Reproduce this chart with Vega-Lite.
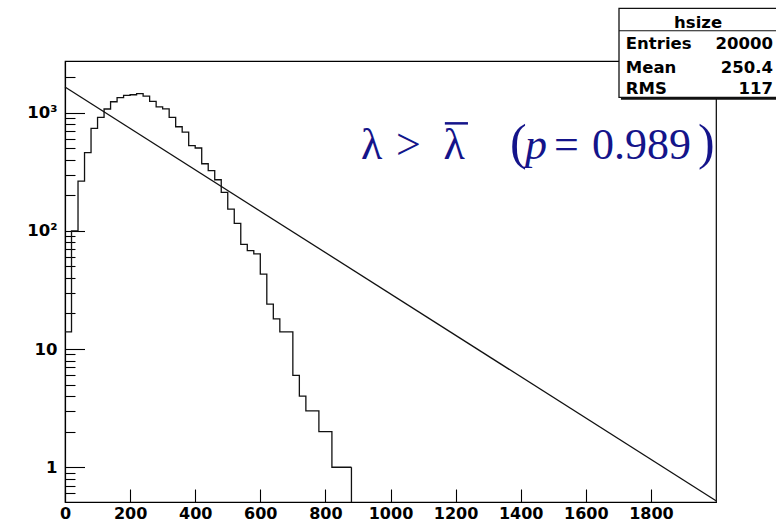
{
  "$schema": "https://vega.github.io/schema/vega-lite/v6.json",
  "width": 651,
  "height": 441,
  "autosize": {"type": "none"},
  "padding": {"left": 65, "top": 61, "right": 60, "bottom": 20},
  "background": "white",
  "config": {
    "view": {"stroke": "black", "strokeWidth": 1.2, "fill": "white"},
    "axis": {
      "grid": false,
      "domainColor": "black",
      "domainWidth": 1.2,
      "tickColor": "black",
      "tickWidth": 1.1,
      "labelColor": "black",
      "labelFont": "DejaVu Sans",
      "labelFontWeight": "bold",
      "labelFontSize": 16.5,
      "labelOverlap": false,
      "labelFlush": false,
      "title": null
    }
  },
  "datasets": {
    "hist": [
      {"x": 0, "y": 14}, {"x": 20, "y": 100}, {"x": 40, "y": 264}, {"x": 60, "y": 459},
      {"x": 80, "y": 738}, {"x": 100, "y": 914}, {"x": 120, "y": 1075}, {"x": 140, "y": 1239},
      {"x": 160, "y": 1340}, {"x": 180, "y": 1405}, {"x": 200, "y": 1420}, {"x": 220, "y": 1450},
      {"x": 240, "y": 1380}, {"x": 260, "y": 1250}, {"x": 280, "y": 1120}, {"x": 300, "y": 1080},
      {"x": 320, "y": 914}, {"x": 340, "y": 761}, {"x": 360, "y": 685}, {"x": 380, "y": 526},
      {"x": 400, "y": 503}, {"x": 420, "y": 370}, {"x": 440, "y": 324}, {"x": 460, "y": 271},
      {"x": 480, "y": 212}, {"x": 500, "y": 153}, {"x": 520, "y": 116}, {"x": 540, "y": 77},
      {"x": 560, "y": 68}, {"x": 580, "y": 64}, {"x": 600, "y": 43}, {"x": 620, "y": 24},
      {"x": 640, "y": 18}, {"x": 660, "y": 14}, {"x": 680, "y": 14}, {"x": 700, "y": 6},
      {"x": 720, "y": 4}, {"x": 740, "y": 3}, {"x": 760, "y": 3}, {"x": 780, "y": 2},
      {"x": 800, "y": 2}, {"x": 820, "y": 1}, {"x": 840, "y": 1}, {"x": 860, "y": 1},
      {"x": 880, "y": 1}
    ],
    "edge": [{"x": 880, "y": 1}],
    "fit": [{"x": 0, "y": 1650}, {"x": 2000, "y": 0.52}],
    "annot": [
      {"x": 909, "y": 404, "t": "λ"},
      {"x": 1017, "y": 404, "t": ">"},
      {"x": 1163, "y": 404, "t": "λ"},
      {"x": 1502, "y": 404, "t": "="},
      {"x": 1619, "y": 404, "t": "0.989"}
    ],
    "bar": [{"x": 1167, "x2": 1238, "y": 813}],
    "annotItalic": [{"x": 1413, "y": 404, "t": "p"}],
    "parens": [{"x": 1367, "y": 404, "t": "("}, {"x": 1945, "y": 404, "t": ")"}],
    "box": [{"x": 1702, "x2": 2200, "y": 1349, "y2": 7640}],
    "sep": [{"x": 1702, "x2": 2200, "y": 4940}],
    "shadow": [{"x": 1708, "x2": 2200, "y": 1318}],
    "header": [{"x": 1945, "y": 5240, "t": "hsize"}],
    "boxLabels": [
      {"x": 1723, "y": 3436, "t": "Entries"},
      {"x": 1723, "y": 2179, "t": "Mean"},
      {"x": 1723, "y": 1432, "t": "RMS"}
    ],
    "boxValues": [
      {"x": 2175, "y": 3436, "t": "20000"},
      {"x": 2175, "y": 2179, "t": "250.4"},
      {"x": 2175, "y": 1432, "t": "117"}
    ]
  },
  "layer": [
    {
      "data": {"name": "hist"},
      "mark": {"type": "line", "interpolate": "step-after", "stroke": "#111", "strokeWidth": 1.3},
      "encoding": {
        "x": {
          "field": "x", "type": "quantitative",
          "scale": {"domain": [0, 2000], "nice": false, "zero": false},
          "axis": {
            "title": null,
            "values": [0,50,100,150,200,250,300,350,400,450,500,550,600,650,700,750,800,850,900,950,1000,1050,1100,1150,1200,1250,1300,1350,1400,1450,1500,1550,1600,1650,1700,1750,1800,1850,1900,1950],
            "labelExpr": "datum.value % 200 === 0 ? format(datum.value, 'd') : ''",
            "tickSize": {"condition": {"test": "datum.value % 200 === 0", "value": -13}, "value": -6.6},
            "labelPadding": 16,
            "labelFontSize": 16,
            "labelAlign": "center",
            "labelBaseline": "top"
          }
        },
        "y": {
          "field": "y", "type": "quantitative",
          "scale": {"type": "log", "domain": [0.508, 2740], "nice": false},
          "axis": {
            "title": null,
            "values": [0.6,0.7,0.8,0.9,1,2,3,4,5,6,7,8,9,10,20,30,40,50,60,70,80,90,100,200,300,400,500,600,700,800,900,1000,2000],
            "labelExpr": "datum.value == 1000 ? '10³' : datum.value == 100 ? '10²' : datum.value == 10 ? '10' : datum.value == 1 ? '1' : ''",
            "tickSize": {"condition": {"test": "datum.value == 1 || datum.value == 10 || datum.value == 100 || datum.value == 1000", "value": -19.5}, "value": -10},
            "labelPadding": 27.5,
            "labelAlign": "right",
            "labelBaseline": "middle"
          }
        }
      }
    },
    {
      "data": {"name": "edge"},
      "mark": {"type": "rule", "stroke": "#111", "strokeWidth": 1.3},
      "encoding": {
        "x": {"field": "x", "type": "quantitative", "scale": {"domain": [0, 2000], "nice": false, "zero": false}},
        "y": {"field": "y", "type": "quantitative", "scale": {"type": "log", "domain": [0.508, 2740], "nice": false}},
        "y2": {"datum": 0.508}
      }
    },
    {
      "data": {"name": "fit"},
      "mark": {"type": "line", "stroke": "#111", "strokeWidth": 1.3},
      "encoding": {
        "x": {"field": "x", "type": "quantitative", "scale": {"domain": [0, 2000], "nice": false, "zero": false}},
        "y": {"field": "y", "type": "quantitative", "scale": {"type": "log", "domain": [0.508, 2740], "nice": false}}
      }
    },
    {
      "data": {"name": "annot"},
      "mark": {"type": "text", "font": "Liberation Serif", "fontSize": 44, "color": "#14148a", "align": "left", "baseline": "alphabetic", "clip": false},
      "encoding": {
        "x": {"field": "x", "type": "quantitative", "scale": {"domain": [0, 2000], "nice": false, "zero": false}},
        "y": {"field": "y", "type": "quantitative", "scale": {"type": "log", "domain": [0.508, 2740], "nice": false}},
        "text": {"field": "t"}
      }
    },
    {
      "data": {"name": "bar"},
      "mark": {"type": "rule", "stroke": "#14148a", "strokeWidth": 2.5, "clip": false},
      "encoding": {
        "x": {"field": "x", "type": "quantitative", "scale": {"domain": [0, 2000], "nice": false, "zero": false}},
        "x2": {"field": "x2"},
        "y": {"field": "y", "type": "quantitative", "scale": {"type": "log", "domain": [0.508, 2740], "nice": false}}
      }
    },
    {
      "data": {"name": "annotItalic"},
      "mark": {"type": "text", "font": "Liberation Serif", "fontSize": 44, "fontStyle": "italic", "color": "#14148a", "align": "left", "baseline": "alphabetic", "clip": false},
      "encoding": {
        "x": {"field": "x", "type": "quantitative", "scale": {"domain": [0, 2000], "nice": false, "zero": false}},
        "y": {"field": "y", "type": "quantitative", "scale": {"type": "log", "domain": [0.508, 2740], "nice": false}},
        "text": {"field": "t"}
      }
    },
    {
      "data": {"name": "parens"},
      "mark": {"type": "text", "font": "Liberation Serif", "fontSize": 50, "color": "#14148a", "align": "left", "baseline": "alphabetic", "clip": false},
      "encoding": {
        "x": {"field": "x", "type": "quantitative", "scale": {"domain": [0, 2000], "nice": false, "zero": false}},
        "y": {"field": "y", "type": "quantitative", "scale": {"type": "log", "domain": [0.508, 2740], "nice": false}},
        "text": {"field": "t"}
      }
    },
    {
      "data": {"name": "shadow"},
      "mark": {"type": "rule", "stroke": "#111", "strokeWidth": 2.5, "clip": false},
      "encoding": {
        "x": {"field": "x", "type": "quantitative", "scale": {"domain": [0, 2000], "nice": false, "zero": false}},
        "x2": {"field": "x2"},
        "y": {"field": "y", "type": "quantitative", "scale": {"type": "log", "domain": [0.508, 2740], "nice": false}}
      }
    },
    {
      "data": {"name": "box"},
      "mark": {"type": "rect", "fill": "white", "stroke": "#111", "strokeWidth": 1.3, "clip": false},
      "encoding": {
        "x": {"field": "x", "type": "quantitative", "scale": {"domain": [0, 2000], "nice": false, "zero": false}},
        "x2": {"field": "x2"},
        "y": {"field": "y", "type": "quantitative", "scale": {"type": "log", "domain": [0.508, 2740], "nice": false}},
        "y2": {"field": "y2"}
      }
    },
    {
      "data": {"name": "sep"},
      "mark": {"type": "rule", "stroke": "#111", "strokeWidth": 1.2, "clip": false},
      "encoding": {
        "x": {"field": "x", "type": "quantitative", "scale": {"domain": [0, 2000], "nice": false, "zero": false}},
        "x2": {"field": "x2"},
        "y": {"field": "y", "type": "quantitative", "scale": {"type": "log", "domain": [0.508, 2740], "nice": false}}
      }
    },
    {
      "data": {"name": "header"},
      "mark": {"type": "text", "font": "DejaVu Sans", "fontWeight": "bold", "fontSize": 16.5, "color": "black", "align": "center", "baseline": "alphabetic", "clip": false},
      "encoding": {
        "x": {"field": "x", "type": "quantitative", "scale": {"domain": [0, 2000], "nice": false, "zero": false}},
        "y": {"field": "y", "type": "quantitative", "scale": {"type": "log", "domain": [0.508, 2740], "nice": false}},
        "text": {"field": "t"}
      }
    },
    {
      "data": {"name": "boxLabels"},
      "mark": {"type": "text", "font": "DejaVu Sans", "fontWeight": "bold", "fontSize": 16.5, "color": "black", "align": "left", "baseline": "alphabetic", "clip": false},
      "encoding": {
        "x": {"field": "x", "type": "quantitative", "scale": {"domain": [0, 2000], "nice": false, "zero": false}},
        "y": {"field": "y", "type": "quantitative", "scale": {"type": "log", "domain": [0.508, 2740], "nice": false}},
        "text": {"field": "t"}
      }
    },
    {
      "data": {"name": "boxValues"},
      "mark": {"type": "text", "font": "DejaVu Sans", "fontWeight": "bold", "fontSize": 16.5, "color": "black", "align": "right", "baseline": "alphabetic", "clip": false},
      "encoding": {
        "x": {"field": "x", "type": "quantitative", "scale": {"domain": [0, 2000], "nice": false, "zero": false}},
        "y": {"field": "y", "type": "quantitative", "scale": {"type": "log", "domain": [0.508, 2740], "nice": false}},
        "text": {"field": "t"}
      }
    }
  ]
}
